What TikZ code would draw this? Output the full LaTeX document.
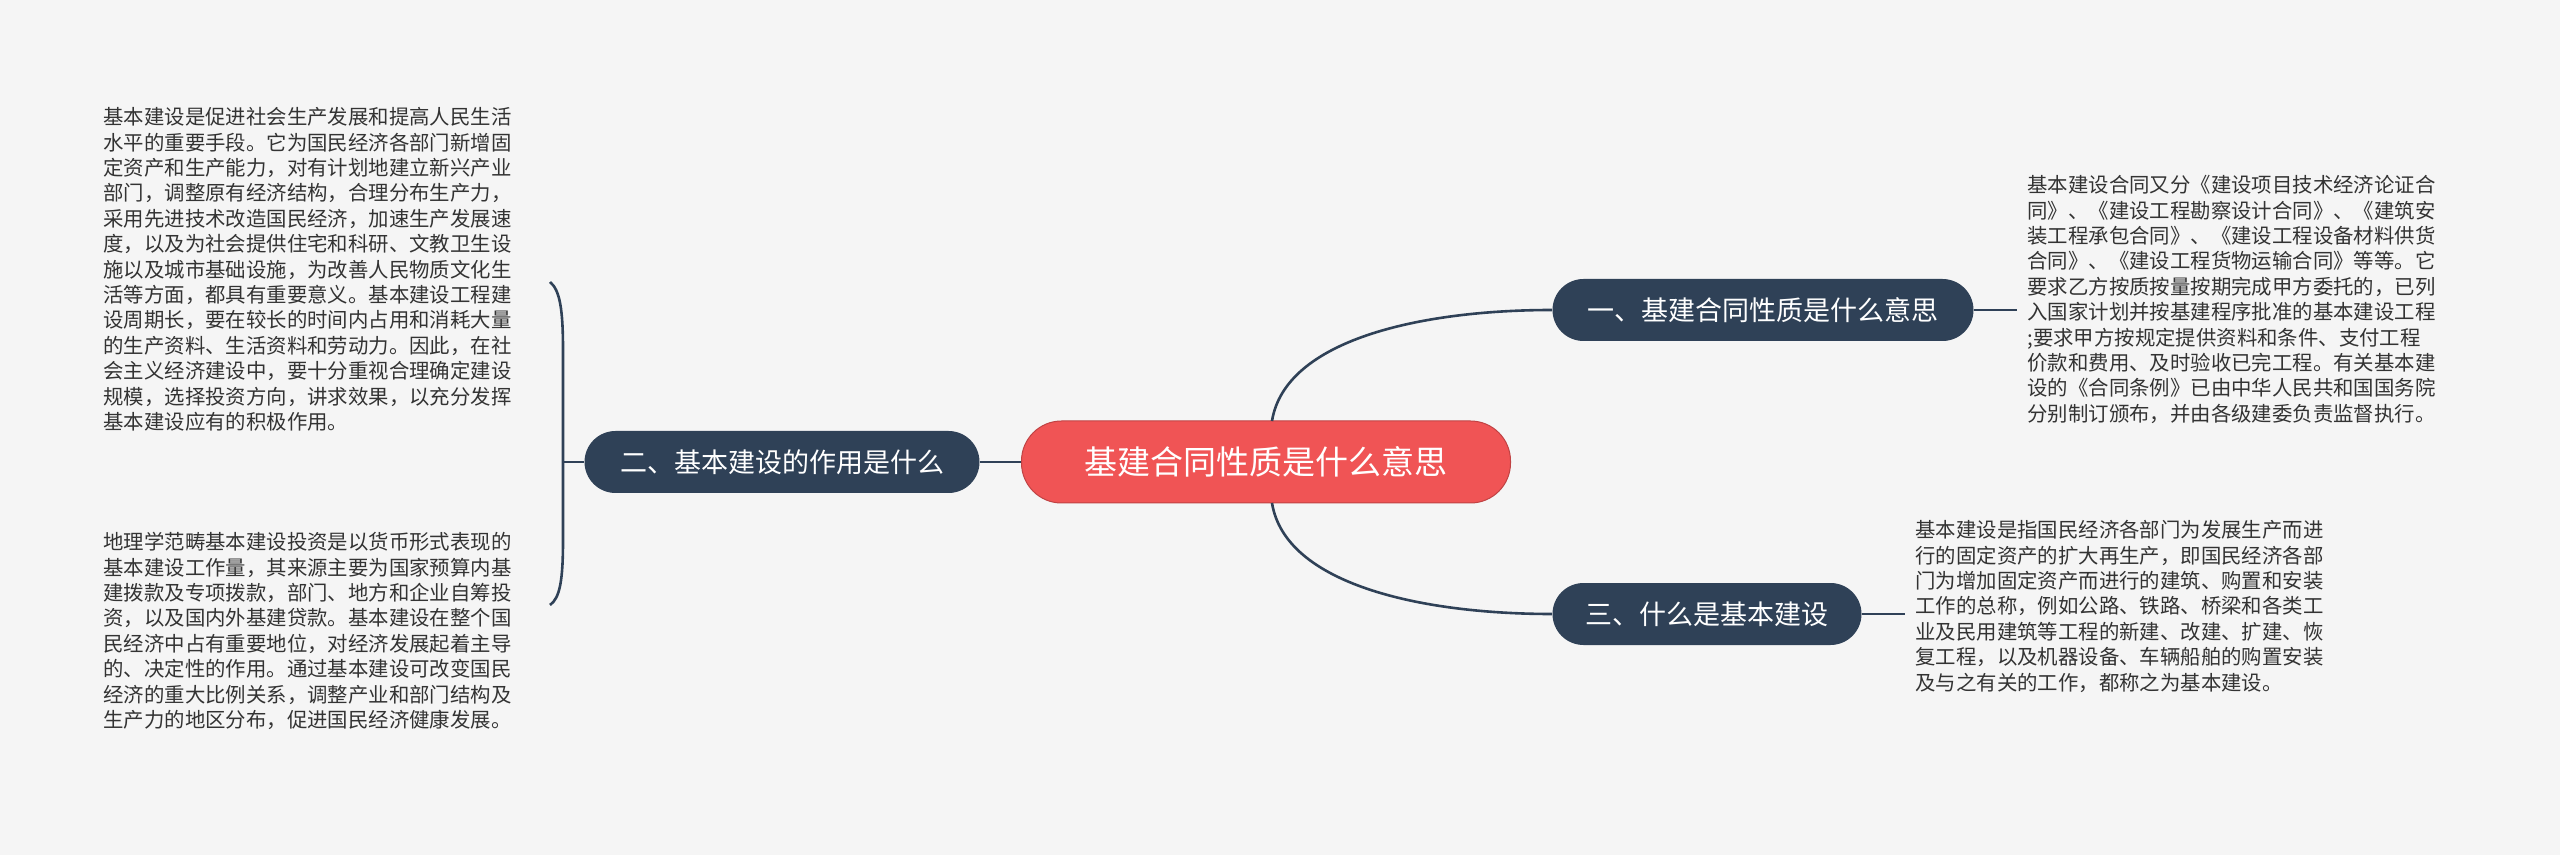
\documentclass[tikz,border=0pt]{standalone}
\usepackage{fontspec}
\newfontfamily\cjk{Noto Sans CJK SC}
\definecolor{bg}{HTML}{F5F5F5}
\definecolor{navy}{HTML}{2F4157}
\definecolor{redc}{HTML}{F05455}
\definecolor{txt}{HTML}{333333}
\begin{document}
\begin{tikzpicture}[x=0.5pt,y=-0.5pt,
  main/.style={fill=redc,draw=redc!80!black,line width=0.5pt,rounded corners=20pt,text=white,font=\cjk\fontsize{16.5}{20}\selectfont,minimum width=244.5pt,minimum height=41pt,inner sep=0pt},
  sub/.style={fill=navy,rounded corners=15.5pt,text=white,font=\cjk\fontsize{13.5}{16}\selectfont,minimum height=31pt,inner sep=0pt},
  para/.style={anchor=north west,align=left,inner sep=0pt,text=txt,font=\cjk\fontsize{10.2}{12.7}\selectfont},
  conn/.style={draw=navy,line width=1.3pt}]
\fill[bg] (0,0) rectangle (2560,855);
\node[main] (c) at (1266,462) {基建合同性质是什么意思};
\node[sub,minimum width=210.5pt] (a) at (1763,310) {一、基建合同性质是什么意思};
\node[sub,minimum width=197.5pt] (b) at (782,462) {二、基本建设的作用是什么};
\node[sub,minimum width=154.5pt] (d) at (1707,614) {三、什么是基本建设};
\node[para] (ta) at (2027,175) {基本建设合同又分《建设项目技术经济论证合\\同》、《建设工程勘察设计合同》、《建筑安\\装工程承包合同》、《建设工程设备材料供货\\合同》、《建设工程货物运输合同》等等。它\\要求乙方按质按量按期完成甲方委托的，已列\\入国家计划并按基建程序批准的基本建设工程\\;要求甲方按规定提供资料和条件、支付工程\\价款和费用、及时验收已完工程。有关基本建\\设的《合同条例》已由中华人民共和国国务院\\分别制订颁布，并由各级建委负责监督执行。};
\node[para] (td) at (1915,520) {基本建设是指国民经济各部门为发展生产而进\\行的固定资产的扩大再生产，即国民经济各部\\门为增加固定资产而进行的建筑、购置和安装\\工作的总称，例如公路、铁路、桥梁和各类工\\业及民用建筑等工程的新建、改建、扩建、恢\\复工程，以及机器设备、车辆船舶的购置安装\\及与之有关的工作，都称之为基本建设。};
\node[para] (tb1) at (103,107) {基本建设是促进社会生产发展和提高人民生活\\水平的重要手段。它为国民经济各部门新增固\\定资产和生产能力，对有计划地建立新兴产业\\部门，调整原有经济结构，合理分布生产力，\\采用先进技术改造国民经济，加速生产发展速\\度，以及为社会提供住宅和科研、文教卫生设\\施以及城市基础设施，为改善人民物质文化生\\活等方面，都具有重要意义。基本建设工程建\\设周期长，要在较长的时间内占用和消耗大量\\的生产资料、生活资料和劳动力。因此，在社\\会主义经济建设中，要十分重视合理确定建设\\规模，选择投资方向，讲求效果，以充分发挥\\基本建设应有的积极作用。};
\node[para] (tb2) at (103,532) {地理学范畴基本建设投资是以货币形式表现的\\基本建设工作量，其来源主要为国家预算内基\\建拨款及专项拨款，部门、地方和企业自筹投\\资，以及国内外基建贷款。基本建设在整个国\\民经济中占有重要地位，对经济发展起着主导\\的、决定性的作用。通过基本建设可改变国民\\经济的重大比例关系，调整产业和部门结构及\\生产力的地区分布，促进国民经济健康发展。};
% connectors
\coordinate (ca) at (1272,421);
\coordinate (cd) at (1272,503);
\draw[conn] (ca) .. controls (1285,340) and (1420,310) .. (a.west);
\draw[conn] (cd) .. controls (1285,584) and (1420,614) .. (d.west);
\draw[conn] (c.west) -- (b.east);
\coordinate (ae) at (2017,310);
\coordinate (de) at (1905,614);
\draw[conn] (a.east) -- (ae);
\draw[conn] (d.east) -- (de);
\coordinate (bt) at (550,282);
\coordinate (bb) at (550,605);
\coordinate (bm) at (563,462);
\draw[conn] (b.west) -- (bm);
\draw[conn] (bt) .. controls (560,290) and (563,310) .. (563,350) -- (563,540) .. controls (563,580) and (560,598) .. (bb);
\end{tikzpicture}
\end{document}
